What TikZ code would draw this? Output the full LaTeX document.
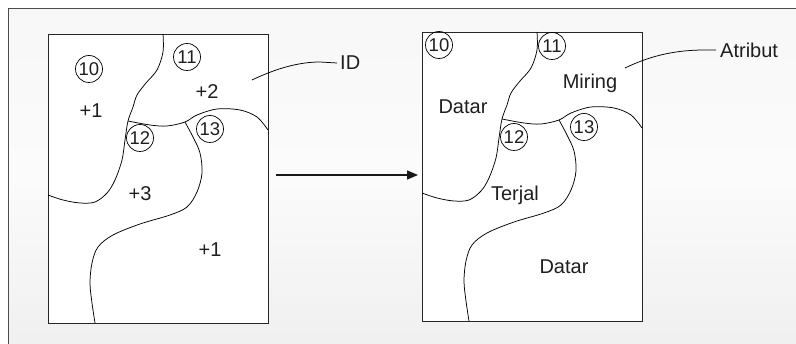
\documentclass[tikz,border=0pt]{standalone}
\usepackage{fontspec}
\setmainfont{Liberation Sans}
\usetikzlibrary{arrows.meta}
\newcommand\myregions{%
  \draw[region] plot[smooth, tension=0.55] coordinates {(115,0) (115,18) (109,36) (98,49) (89,61) (85,73) (80,87) (77,106) (74,126) (67,146) (59,159) (47,168) (32,169) (15,166) (0,161)};
  \draw[region] plot[smooth, tension=0.55] coordinates {(80,87) (102,91) (119,92) (137,88) (149,81) (169,75) (192,76) (209,83) (220,96)};
  \draw[region] plot[smooth, tension=0.55] coordinates {(137,88) (145,103) (152,119) (154,139) (149,158) (139,173) (122,181) (92,190) (65,201) (50,213) (44,229) (42,249) (44,269) (47,289)};
}
\begin{document}
\begin{tikzpicture}[x=1pt,y=-1pt,
  lbl/.style={font=\fontsize{20}{23}\selectfont, inner sep=0pt, text=black!88},
  idc/.style={draw, circle, minimum size=27pt, inner sep=0pt, line width=0.7pt, font=\fontsize{18.5}{21}\selectfont, text=black!88},
  region/.style={line width=0.75pt, black},
  box/.style={draw=black!85, line width=0.9pt, fill=white, inner sep=0pt, minimum width=220pt, minimum height=289pt, anchor=north west},
  lead/.style={line width=0.75pt, black}]
\useasboundingbox (0,0) rectangle (796,344);
\fill[white] (0,0) rectangle (796,344);
\shade[top color=gray!6, bottom color=gray!12, middle color=gray!3] (8,9) rectangle (796,344);
\draw[black!70, line width=1pt] (796,9) -- (8,9) -- (8,344);

% left map
\node[box] (L) at (48,34) {};
\begin{scope}[shift={(48,34)}]
  \myregions
\end{scope}
\node[idc] (l10) at (89,69) {10};
\node[idc] (l11) at (187,57) {11};
\node[idc] (l12) at (140,138) {12};
\node[idc] (l13) at (210,129) {13};
\node[lbl] (lp1) at (91,111) {+1};
\node[lbl] (lp2) at (207,92) {+2};
\node[lbl] (lp3) at (140,194) {+3};
\node[lbl] (lp4) at (210,250) {+1};

% right map
\node[box] (R) at (422,32) {};
\begin{scope}[shift={(422,32)}]
  \myregions
\end{scope}
\node[idc] (r10) at (439,45) {10};
\node[idc] (r11) at (552,46) {11};
\node[idc] (r12) at (514,137) {12};
\node[idc] (r13) at (584,127) {13};
\node[lbl] (rmir) at (590,83) {Miring};
\node[lbl] (rdat1) at (463,107) {Datar};
\node[lbl] (rter) at (515,195) {Terjal};
\node[lbl] (rdat2) at (564,267) {Datar};

% leaders
\node[lbl, anchor=west] (idlbl) at (340,63) {ID};
\coordinate (idp) at (252,80);
\draw[lead] (idp) .. controls (275,69) and (298,62) .. (320,62) -- ([xshift=-3pt]idlbl.west);
\node[lbl, anchor=west] (atlbl) at (720,50) {Atribut};
\coordinate (atp) at (625,68);
\draw[lead] (atp) .. controls (648,57) and (672,50) .. (705,50) -- ([xshift=-4pt]atlbl.west);

% arrow
\coordinate (a1) at (276,175);
\coordinate (a2) at (418,175);
\draw[line width=1.4pt, black!90, -{Triangle[length=11pt,width=9pt]}] (a1) -- (a2);
\end{tikzpicture}
\end{document}
